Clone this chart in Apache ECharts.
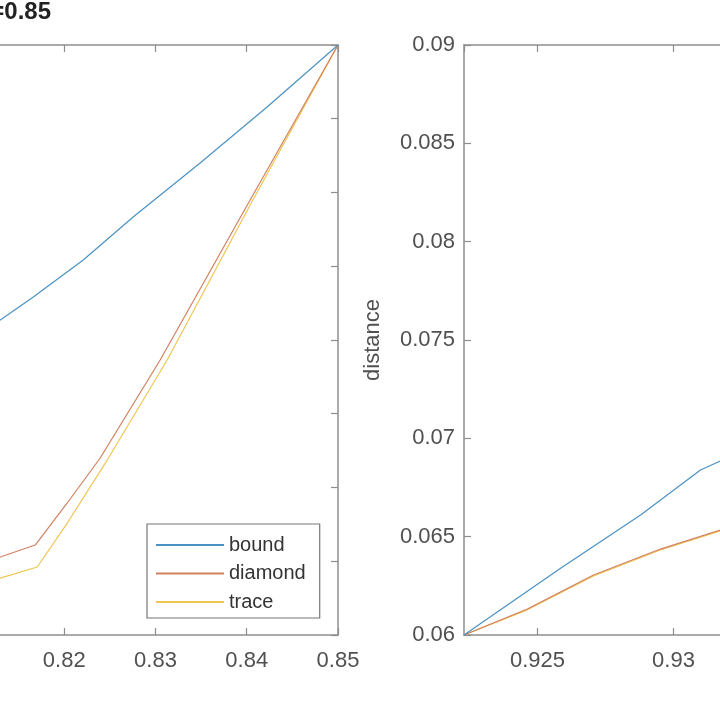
<!DOCTYPE html>
<html>
<head>
<meta charset="utf-8">
<script src="https://cdn.jsdelivr.net/npm/echarts@6/dist/echarts.min.js"></script>
<style>html,body{margin:0;padding:0;background:#fff;}#c{width:720px;height:720px;}</style>
</head>
<body>
<div id="c"></div>
<script>
// ---- data ----
const seriesNames = ['bound', 'diamond', 'trace'];

const leftBoundX   = [0.81, 0.81299, 0.81661, 0.82208, 0.82755, 0.83489, 0.84223, 0.85];
const leftBoundY   = [0.04007, 0.04136, 0.04292, 0.04542, 0.04834, 0.05200, 0.05580, 0.06];
const leftDiamondX = [0.81, 0.81299, 0.81682, 0.82033, 0.82394, 0.83051, 0.84037, 0.85];
const leftDiamondY = [0.02468, 0.02529, 0.02610, 0.02895, 0.03200, 0.03864, 0.04949, 0.06];
const leftTraceX   = [0.81, 0.81299, 0.81704, 0.82033, 0.82471, 0.83128, 0.84037, 0.85];
const leftTraceY   = [0.02332, 0.02386, 0.02461, 0.02759, 0.03186, 0.03864, 0.04915, 0.06];

const rightBoundX   = [0.9223, 0.92585, 0.92879, 0.93099, 0.932];
const rightBoundY   = [0.06, 0.0634, 0.0661, 0.06839, 0.06902];
const rightDiamondX = [0.9223, 0.92463, 0.92706, 0.92952, 0.932];
const rightDiamondY = [0.06, 0.06132, 0.06305, 0.06437, 0.06546];
const rightTraceX   = [0.9223, 0.92463, 0.92706, 0.92952, 0.932];
const rightTraceY   = [0.06, 0.06128, 0.06300, 0.06432, 0.06541];

const titleText = 'r=0.85';
const rightYName = 'distance';

// ---- styles ----
const FONT = 'Liberation Sans, Arial, Helvetica, sans-serif';
const AXIS_COLOR = '#8e8e8e';
const LABEL_COLOR = '#505050';
const COLORS = ['#4a92c4', '#d28060', '#efc654'];

function zip(xs, ys) { return xs.map((x, i) => [x, ys[i]]); }

function axisBase(extra) {
  return Object.assign({
    type: 'value',
    axisLine: { show: true, onZero: false, lineStyle: { color: AXIS_COLOR, width: 1.5 } },
    axisTick: { show: true, inside: true, length: 7, lineStyle: { color: AXIS_COLOR, width: 1.2 } },
    axisLabel: { show: true, color: LABEL_COLOR, fontSize: 22, fontFamily: FONT },
    splitLine: { show: false }
  }, extra);
}
function noLabels(a) { a.axisLabel = Object.assign({}, a.axisLabel, { show: false }); return a; }

const chart = echarts.init(document.getElementById('c'), null, { renderer: 'canvas' });

const lineSeries = (name, xi, yi, data, ci) => ({
  name, type: 'line', xAxisIndex: xi, yAxisIndex: yi, data,
  symbol: 'none', showSymbol: false, smooth: false,
  lineStyle: { color: COLORS[ci], width: 1.2 }, itemStyle: { color: COLORS[ci] },
  z: 3 - ci + 2
});

chart.setOption({
  animation: false,
  backgroundColor: '#fff',
  title: {
    text: titleText, left: -19, top: 0, padding: 0,
    textStyle: { fontSize: 24, fontWeight: 'bold', color: '#222', fontFamily: FONT }
  },
  legend: {
    data: seriesNames,
    orient: 'vertical',
    left: 147, top: 524,
    padding: [11, 14, 6, 8],
    itemWidth: 68, itemHeight: 14, itemGap: 8.5,
    itemStyle: { opacity: 0 },
    backgroundColor: '#fff',
    borderColor: '#777', borderWidth: 1.2, borderRadius: 0,
    textStyle: { fontSize: 20, fontFamily: FONT, color: '#333', lineHeight: 20 }
  },
  grid: [
    { left: -27, top: 45, width: 365, height: 590, containLabel: false, outerBoundsMode: 'none' },
    { left: 464, top: 45, width: 400, height: 590, containLabel: false, outerBoundsMode: 'none' }
  ],
  xAxis: [
    axisBase({ gridIndex: 0, position: 'bottom', min: 0.81, max: 0.85, interval: 0.01,
      axisLabel: { show: true, color: LABEL_COLOR, fontSize: 22, fontFamily: FONT, margin: 15 } }),
    noLabels(axisBase({ gridIndex: 0, position: 'top', min: 0.81, max: 0.85, interval: 0.01 })),
    axisBase({ gridIndex: 1, position: 'bottom', min: 0.9223, max: 0.937, minInterval: 0.005, maxInterval: 0.005, splitNumber: 3,
      axisLabel: { show: true, color: LABEL_COLOR, fontSize: 22, fontFamily: FONT, margin: 15, showMinLabel: false, showMaxLabel: false } }),
    noLabels(axisBase({ gridIndex: 1, position: 'top', min: 0.9223, max: 0.937, minInterval: 0.005, maxInterval: 0.005, splitNumber: 3 }))
  ],
  yAxis: [
    axisBase({ gridIndex: 0, position: 'left', min: 0.02, max: 0.06, interval: 0.005,
      axisLabel: { show: true, color: LABEL_COLOR, fontSize: 22, fontFamily: FONT, margin: 9 } }),
    noLabels(axisBase({ gridIndex: 0, position: 'right', min: 0.02, max: 0.06, interval: 0.005 })),
    axisBase({ gridIndex: 1, position: 'left', min: 0.06, max: 0.09, interval: 0.005,
      name: rightYName, nameLocation: 'middle', nameGap: 80, nameRotate: 90,
      nameTextStyle: { fontSize: 22, fontFamily: FONT, color: LABEL_COLOR },
      axisLabel: { show: true, color: LABEL_COLOR, fontSize: 22, fontFamily: FONT, margin: 9 } }),
    noLabels(axisBase({ gridIndex: 1, position: 'right', min: 0.06, max: 0.09, interval: 0.005 }))
  ],
  series: [
    lineSeries('bound', 0, 0, zip(leftBoundX, leftBoundY), 0),
    lineSeries('diamond', 0, 0, zip(leftDiamondX, leftDiamondY), 1),
    lineSeries('trace', 0, 0, zip(leftTraceX, leftTraceY), 2),
    lineSeries('bound', 2, 2, zip(rightBoundX, rightBoundY), 0),
    lineSeries('diamond', 2, 2, zip(rightDiamondX, rightDiamondY), 1),
    lineSeries('trace', 2, 2, zip(rightTraceX, rightTraceY), 2)
  ]
});
</script>
</body>
</html>
